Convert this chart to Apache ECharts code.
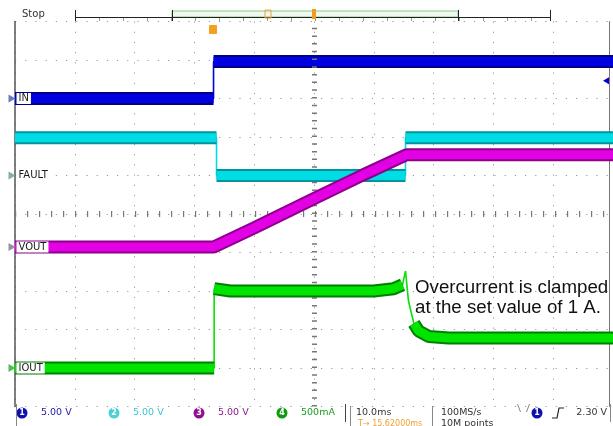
<!DOCTYPE html>
<html>
<head>
<meta charset="utf-8">
<script src="https://cdn.jsdelivr.net/npm/echarts@6/dist/echarts.min.js"></script>
<style>html,body{margin:0;padding:0;background:#fff}#c{width:613px;height:426px}</style>
</head>
<body>
<div id="c"></div>
<script>
// ---- Data read from the scope capture (time in ms, 10 ms/div) ----
const inVolts    = [[0,0],[33.2,0],[33.2,4.8],[100,4.8]];                       // CH1, 5 V/div
const faultVolts = [[0,4.9],[33.7,4.9],[33.7,0],[65.3,0],[65.3,4.9],[100,4.9]]; // CH2, 5 V/div
const voutVolts  = [[0,0],[33.2,0],[40,2.5],[50,6.3],[58,9.3],[65.5,12.0],[100,12.0]]; // CH3, 5 V/div
const ioutAmps   = [[0,0],[33.3,0],[33.3,1.03],[36,1.0],[60,1.0],[63.3,1.03],[64.8,1.08],[65.3,1.26],
                    [65.8,0.87],[66.7,0.58],[67.5,0.48],[69.2,0.41],[72.5,0.39],[100,0.39]]; // CH4, 500 mA/div
const channelNames   = ['IN','FAULT','VOUT','IOUT'];
const channelScales  = [5, 5, 5, 0.5];        // units per division
const channelOffsets = [3, 1, -0.86, -4];     // ground position, divisions from centre
const triggerLevel = 2.30;                    // V on CH1
const statusLabels = ['5.00 V','5.00 V','5.00 V','500mA'];

const bright = ['#0000e0','#00dce4','#e400e4','#00e400'];
const dark   = ['#00008a','#00959c','#8c008c','#007f00'];
const marker = ['#6a7fb0','#7fb0a0','#9a8fa0','#50c050'];
const channels = [inVolts, faultVolts, voutVolts, ioutAmps];

function toDiv(pts, off, sc){ return pts.map(p => [p[0], off + p[1]/sc]); }
// thick band only on slow parts; vertical / very steep edges are drawn by the thin trace
function splitSteps(pts){
  const out = [];
  pts.forEach((p,i) => {
    if (i > 0) {
      const dt = p[0] - pts[i-1][0], dv = Math.abs(p[1] - pts[i-1][1]);
      if (dt === 0 || dv/dt > 0.5) out.push([p[0], '-']);
    }
    out.push(p);
  });
  return out;
}

const series = [];
series.push({
  type:'line', data:[], silent:true, z:1,
  markLine:{ silent:true, symbol:'none', label:{show:false}, animation:false,
    data:[
      {xAxis:50, lineStyle:{color:'#777', width:5, type:[1.5,6.2]}},
      {yAxis:0, lineStyle:{color:'#777', width:6, type:[1.2,10.8]}}
    ]}
});
channels.forEach((pts, i) => {
  const d = toDiv(pts, channelOffsets[i], channelScales[i]);
  const s = splitSteps(d);
  series.push({type:'line', data:d, showSymbol:false, z:2+i*3, silent:true,
    lineStyle:{color:bright[i], width:1.6}});
  series.push({type:'line', data:s, showSymbol:false, z:3+i*3, silent:true, connectNulls:false,
    lineStyle:{color:dark[i], width:13, cap:'butt'}});
  series.push({type:'line', data:s, showSymbol:false, z:4+i*3, silent:true, connectNulls:false,
    lineStyle:{color:bright[i], width:9, cap:'butt'}});
});
channelNames.forEach((nm, i) => {
  series.push({type:'scatter', z:30, clip:false, silent:true,
    data:[{name:nm, value:[0, channelOffsets[i]]}],
    symbol:'triangle', symbolRotate:-90, symbolSize:[8,7], symbolOffset:[-3,0],
    itemStyle:{color:marker[i], opacity:1},
    label:{show:true, position:'right', distance:1, formatter:'{b}', color:'#1a1a1a', opacity:1,
      fontFamily:'DejaVu Sans', fontSize:10, backgroundColor:'#ffffff', padding:[1,2,0,2]}
  });
});
series.push({type:'scatter', z:30, clip:false, silent:true,
  data:[[100, channelOffsets[0] + triggerLevel/channelScales[0]]],
  symbol:'triangle', symbolRotate:90, symbolSize:[7,6], symbolOffset:[-7,0],
  itemStyle:{color:bright[0], opacity:1}});

// ---- screen chrome (status bars) ----
const g = [];
const txt = (x,y,t,fill,size,align) => g.push({type:'text', x:x, y:y,
  style:{text:t, fill:fill, font:(size||10)+'px "DejaVu Sans"', textVerticalAlign:'middle', textAlign:align||'left'}, z:50});
const ln = (x1,y1,x2,y2,c,w) => g.push({type:'line', shape:{x1:x1,y1:y1,x2:x2,y2:y2}, style:{stroke:c||'#222', lineWidth:w||1}, z:50});
txt(22,14,'Stop','#333',10);
g.push({type:'rect', shape:{x:172,y:11,width:286,height:6}, style:{stroke:'#8c8', fill:'#eef8ee', lineWidth:1}, z:49});
ln(75,17.5,550,17.5,'#222',1);
[75,172,458,550].forEach(x => ln(x+0.5,10,x+0.5,21,'#222',1));
for (let x = 99; x < 550; x += 24) ln(x+0.5,18,x+0.5,21,'#999',1);
g.push({type:'rect', shape:{x:265,y:10,width:6,height:8}, style:{stroke:'#f0a030', fill:'none', lineWidth:1}, z:51});
g.push({type:'rect', shape:{x:312,y:9,width:4,height:10}, style:{fill:'#f59a20'}, z:51});
g.push({type:'rect', shape:{x:209,y:25,width:8,height:9,r:1}, style:{fill:'#f5a020'}, z:51});
txt(210.5,29.5,'T','#fff',7);

const badge = (x, n, col) => {
  g.push({type:'circle', shape:{cx:x, cy:413, r:5.5}, style:{fill:col}, z:50});
  g.push({type:'text', x:x, y:413, style:{text:String(n), fill:'#fff', font:'bold 8px "DejaVu Sans"', textAlign:'center', textVerticalAlign:'middle'}, z:51});
};
const statusColors = ['#1a1aa0','#39c6cf','#8c1a8c','#1a9a1a'];
const badgeFill = ['#1010b0','#4cd0d8','#901090','#109a10'];
const badgeX = [22,114,199,282];
statusLabels.forEach((t,i) => { badge(badgeX[i], i+1, badgeFill[i]); txt(badgeX[i]+19,413,t,statusColors[i],9.5); });
ln(16.5,404,16.5,426,'#888',1);
ln(345.5,404,345.5,422,'#444',1);
ln(350.5,406,350.5,426,'#888',1);
txt(356,413,'10.0ms','#333',9.5);
txt(358,424,'T\u2192 15.62000ms','#f0a030',8);
ln(432.5,406,432.5,426,'#888',1);
txt(441,413,'100MS/s','#333',9.5);
txt(441,424,'10M points','#333',9.5);
ln(517.5,404,520.5,412,'#888',1);
ln(526.5,412,529.5,404,'#888',1);
badge(537,1,'#1010b0');
g.push({type:'polyline', shape:{points:[[552,418],[557,418],[559,408],[564,408]]}, style:{stroke:'#222', lineWidth:1.2, fill:'none'}, z:50});
txt(607,413,'2.30 V','#333',9.5,'right');
ln(610.5,404,610.5,422,'#888',1);

// annotation
g.push({type:'text', x:415, y:278, style:{text:'Overcurrent is clamped\nat the set value of 1 A.', fill:'#111',
  font:'18.7px "Liberation Sans"', lineHeight:20}, z:60});

const chart = echarts.init(document.getElementById('c'), null, {renderer:'canvas'});
chart.setOption({
  animation:false,
  backgroundColor:'#fff',
  grid:{left:15, right:-2, top:21.5, bottom:19.5, containLabel:false},
  xAxis:{type:'value', min:0, max:100, interval:10,
    axisLine:{show:false}, axisTick:{show:false}, axisLabel:{show:false},
    splitLine:{show:true, lineStyle:{color:'#9a9a9a', width:1, type:[1.2,9]}}},
  yAxis:[
    {type:'value', min:-5, max:5, interval:1,
     axisLine:{show:true, lineStyle:{color:'#555', width:1.5}}, axisTick:{show:false}, axisLabel:{show:false},
     splitLine:{show:true, lineStyle:{color:'#9a9a9a', width:1, type:[1.2,9]}}},
    {type:'value', min:-5, max:5, position:'right', offset:-4,
     axisLine:{show:true, lineStyle:{color:'#777', width:1}}, axisTick:{show:false}, axisLabel:{show:false}, splitLine:{show:false}}
  ],
  series: series,
  graphic: g
});
</script>
</body>
</html>
